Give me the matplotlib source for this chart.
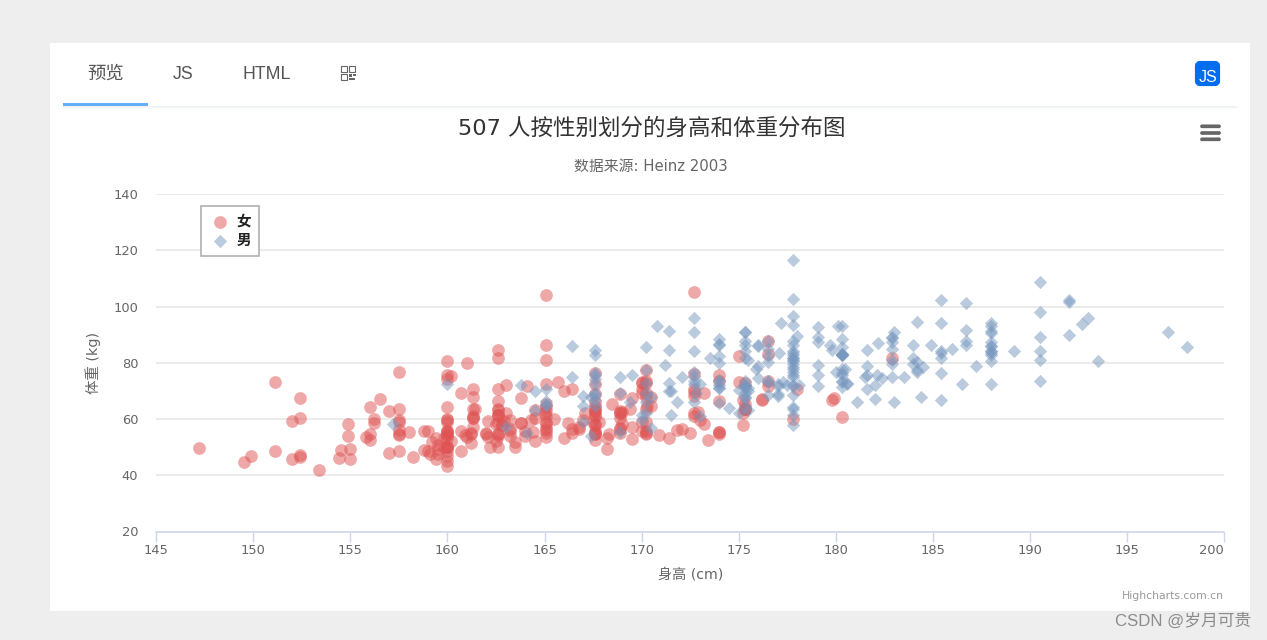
import matplotlib
matplotlib.use('Agg')
import matplotlib.pyplot as plt
from matplotlib.patches import Rectangle, FancyBboxPatch

plt.rcParams['font.family'] = ['DejaVu Sans', 'Noto Sans CJK SC']

# height (cm), weight (kg)
female_height = [
    161.2, 167.5, 159.5, 157.0, 155.8, 170.0, 159.1, 166.0, 176.2, 160.2, 172.5, 170.9, 172.9, 153.4, 160.0,
    147.2, 168.2, 175.0, 157.0, 167.6, 159.5, 175.0, 166.8, 176.5, 170.2, 174.0, 173.0, 179.9, 170.5, 160.0,
    154.4, 162.0, 176.5, 160.0, 152.0, 162.1, 170.0, 160.2, 161.3, 166.4, 168.9, 163.8, 167.6, 160.0, 161.3,
    167.6, 165.1, 160.0, 170.0, 157.5, 167.6, 160.7, 163.2, 152.4, 157.5, 168.3, 180.3, 165.5, 165.0, 164.5,
    156.0, 160.0, 163.0, 165.7, 161.0, 162.0, 166.0, 174.0, 172.7, 167.6, 151.1, 164.5, 163.5, 152.0, 169.0,
    164.0, 161.2, 155.0, 170.0, 176.2, 170.0, 162.5, 170.3, 164.1, 169.5, 163.2, 154.5, 159.8, 173.2, 170.0,
    161.4, 169.0, 166.2, 159.4, 162.5, 159.0, 162.8, 159.0, 179.8, 162.9, 161.0, 151.1, 168.2, 168.9, 173.2,
    171.8, 178.0, 164.3, 163.0, 168.5, 166.8, 172.7, 163.5, 169.4, 167.8, 159.5, 167.6, 161.2, 160.0, 163.2,
    162.2, 161.3, 149.5, 157.5, 163.2, 172.7, 155.0, 156.5, 164.0, 160.9, 162.8, 167.0, 160.0, 160.0, 168.9,
    158.2, 156.0, 160.0, 167.1, 158.0, 167.6, 156.0, 162.1, 173.4, 159.8, 170.5, 159.2, 157.5, 161.3, 162.6,
    160.0, 168.9, 165.1, 162.6, 165.1, 166.4, 160.0, 152.4, 170.2, 162.6, 170.2, 158.8, 172.7, 167.6, 162.6,
    167.6, 156.2, 175.2, 172.1, 162.6, 160.0, 165.1, 182.9, 166.4, 165.1, 177.8, 165.1, 175.3, 154.9, 158.8,
    172.7, 168.9, 161.3, 167.6, 165.1, 175.3, 157.5, 163.8, 167.6, 165.1, 165.1, 168.9, 162.6, 164.5, 176.5,
    168.9, 175.3, 159.4, 160.0, 170.2, 162.6, 167.6, 162.6, 160.7, 160.0, 157.5, 162.6, 152.4, 170.2, 165.1,
    172.7, 165.1, 170.2, 170.2, 170.2, 161.3, 167.6, 167.6, 165.1, 162.6, 152.4, 168.9, 170.2, 175.2, 175.2,
    160.0, 165.1, 174.0, 170.2, 160.0, 167.6, 167.6, 167.6, 154.9, 162.6, 175.3, 171.4, 157.5, 165.1, 160.0,
    174.0, 162.6, 174.0, 162.6, 161.3, 156.2, 149.9, 169.5, 160.0, 175.3, 169.5, 160.0, 172.7, 162.6, 157.5,
    176.5, 164.4, 160.7, 174.0, 163.8,
]
female_weight = [
    51.6, 59.0, 49.2, 63.0, 53.6, 59.0, 47.6, 69.8, 66.8, 75.2, 55.2, 54.2, 62.5, 42.0, 50.0,
    49.8, 49.2, 73.2, 47.8, 68.8, 50.6, 82.5, 57.2, 87.8, 72.8, 54.5, 59.8, 67.3, 67.8, 47.0,
    46.2, 55.0, 83.0, 54.4, 45.8, 53.6, 73.2, 52.1, 67.9, 56.6, 62.3, 58.5, 54.5, 50.2, 60.3,
    58.3, 56.2, 50.2, 72.9, 59.8, 61.0, 69.1, 55.9, 46.5, 54.3, 54.8, 60.7, 60.0, 62.0, 60.3,
    52.7, 74.3, 62.0, 73.1, 80.0, 54.7, 53.2, 75.7, 61.1, 55.7, 48.7, 52.3, 50.0, 59.3, 62.5,
    55.7, 54.8, 45.9, 70.6, 67.2, 69.4, 58.2, 64.8, 71.6, 52.8, 59.8, 49.0, 50.0, 69.2, 55.9,
    63.4, 58.2, 58.6, 45.7, 52.2, 48.6, 57.8, 55.6, 66.8, 59.4, 53.6, 73.2, 53.4, 69.0, 58.4,
    56.2, 70.6, 59.8, 72.0, 65.2, 56.6, 105.2, 51.8, 63.4, 59.0, 47.6, 63.0, 55.2, 45.0, 54.0,
    50.2, 60.2, 44.8, 58.8, 56.4, 62.0, 49.2, 67.2, 53.8, 54.4, 58.0, 59.8, 54.8, 43.2, 60.5,
    46.4, 64.4, 48.8, 62.2, 55.5, 57.8, 54.6, 59.2, 52.7, 53.2, 64.5, 51.8, 56.0, 63.6, 63.2,
    59.5, 56.8, 64.1, 50.0, 72.3, 55.0, 55.9, 60.4, 69.1, 84.5, 55.9, 55.6, 69.5, 76.4, 61.4,
    65.9, 58.6, 66.8, 56.6, 58.6, 55.9, 59.1, 81.8, 70.7, 56.8, 60.0, 58.2, 72.7, 54.1, 49.1,
    75.9, 55.0, 57.3, 55.0, 65.5, 65.5, 48.6, 58.6, 63.6, 55.2, 62.7, 56.6, 53.9, 63.2, 73.6,
    62.0, 63.6, 53.2, 53.4, 55.0, 70.5, 54.5, 54.5, 55.9, 59.0, 63.6, 54.5, 47.3, 67.7, 80.9,
    70.5, 60.9, 63.6, 54.5, 59.1, 70.5, 52.7, 62.7, 86.3, 66.4, 67.3, 63.0, 73.6, 62.3, 57.7,
    55.4, 104.1, 55.5, 77.3, 80.5, 64.5, 72.3, 61.4, 58.2, 81.8, 63.6, 53.4, 54.5, 53.6, 60.0,
    73.6, 61.4, 55.5, 63.6, 60.9, 60.0, 46.8, 57.3, 64.1, 63.6, 67.3, 75.5, 68.2, 61.4, 76.8,
    71.8, 55.5, 48.6, 66.4, 67.3,
]
male_height = [
    174.0, 175.3, 193.5, 186.5, 187.2, 181.5, 184.0, 184.5, 175.0, 184.0, 180.0, 177.8, 192.0, 176.0, 174.0,
    184.0, 192.7, 171.5, 173.0, 176.0, 176.0, 180.5, 172.7, 176.0, 173.5, 178.0, 180.3, 180.3, 164.5, 173.0,
    183.5, 175.5, 188.0, 189.2, 172.8, 170.0, 182.0, 170.0, 177.8, 184.2, 186.7, 171.4, 172.7, 175.3, 180.3,
    182.9, 188.0, 177.2, 172.1, 167.0, 169.5, 174.0, 172.7, 182.2, 164.1, 163.0, 171.5, 184.2, 174.0, 174.0,
    177.0, 186.0, 167.0, 171.8, 182.0, 167.0, 177.8, 164.5, 192.0, 175.5, 171.2, 181.6, 167.4, 181.1, 177.0,
    174.5, 177.5, 170.5, 182.4, 197.1, 180.1, 175.5, 180.6, 184.4, 175.5, 180.6, 177.0, 177.1, 181.6, 176.5,
    175.0, 174.0, 165.1, 177.0, 192.0, 176.5, 169.4, 182.1, 179.8, 175.3, 184.9, 177.3, 167.4, 178.1, 168.9,
    157.2, 180.3, 170.2, 177.8, 172.7, 165.1, 186.7, 165.1, 174.0, 175.3, 185.4, 177.8, 180.3, 180.3, 177.8,
    177.8, 177.8, 177.8, 177.8, 163.8, 188.0, 198.1, 175.3, 166.4, 190.5, 166.4, 177.8, 179.7, 172.7, 190.5,
    185.4, 168.9, 167.6, 175.3, 170.2, 190.5, 177.8, 190.5, 177.8, 184.2, 176.5, 177.8, 180.3, 171.4, 172.7,
    172.7, 177.8, 177.8, 182.9, 170.2, 167.6, 175.3, 165.1, 185.4, 181.6, 172.7, 190.5, 179.1, 175.3, 170.2,
    193.0, 171.4, 177.8, 177.8, 167.6, 167.6, 180.3, 182.9, 176.5, 186.7, 188.0, 188.0, 177.8, 174.0, 177.8,
    171.4, 185.4, 185.4, 188.0, 188.0, 182.9, 176.5, 175.3, 175.3, 188.0, 188.0, 175.3, 170.5, 179.1, 177.8,
    175.3, 182.9, 170.8, 188.0, 180.3, 177.8, 185.4, 168.9, 185.4, 180.3, 174.0, 167.6, 182.9, 160.0, 180.3,
    167.6, 186.7, 175.3, 175.3, 175.9, 175.3, 179.1, 181.6, 177.8, 182.9, 177.8, 184.2, 179.1, 176.5, 188.0,
    174.0, 167.6, 170.2, 167.6, 188.0, 174.0, 176.5, 180.3, 167.6, 188.0, 180.3, 167.6, 183.0, 183.0, 179.1,
    170.2, 177.8, 179.1, 190.5, 177.8, 180.3, 180.3,
]
male_weight = [
    65.6, 71.8, 80.7, 72.6, 78.8, 74.8, 86.4, 78.4, 62.0, 81.6, 76.6, 83.6, 90.0, 74.6, 71.0,
    79.6, 93.8, 70.0, 72.4, 85.9, 78.8, 77.8, 66.2, 86.4, 81.8, 89.6, 82.8, 76.4, 63.2, 60.9,
    74.8, 70.0, 72.4, 84.1, 69.1, 59.5, 67.2, 61.3, 68.6, 80.1, 87.8, 84.7, 73.4, 72.1, 82.6,
    88.7, 84.1, 94.1, 74.9, 59.1, 75.6, 86.2, 75.3, 87.1, 55.2, 57.0, 61.4, 76.8, 86.8, 72.2,
    71.6, 84.8, 68.2, 66.1, 72.0, 64.6, 74.8, 70.0, 101.6, 63.2, 79.1, 78.9, 67.7, 66.0, 68.2,
    63.9, 72.0, 56.8, 74.5, 90.9, 93.0, 80.9, 72.7, 68.0, 70.9, 72.5, 72.5, 83.4, 75.5, 73.0,
    70.2, 73.4, 70.5, 68.9, 102.3, 68.4, 65.9, 75.7, 84.5, 87.7, 86.4, 73.2, 53.9, 72.0, 55.5,
    58.4, 83.2, 72.7, 64.1, 72.3, 65.0, 86.4, 65.0, 88.6, 84.1, 66.8, 75.5, 93.2, 82.7, 58.0,
    79.5, 78.6, 71.8, 116.4, 72.2, 83.6, 85.5, 90.9, 85.9, 89.1, 75.0, 77.7, 86.4, 90.9, 73.6,
    76.4, 69.1, 84.5, 64.5, 69.1, 108.6, 86.4, 80.9, 87.7, 94.5, 80.2, 72.0, 71.4, 72.7, 84.1,
    76.8, 63.6, 80.9, 80.9, 85.5, 68.6, 67.7, 66.4, 102.3, 70.5, 95.9, 84.1, 87.3, 71.8, 65.9,
    95.9, 91.4, 81.8, 96.8, 69.1, 82.7, 75.5, 79.5, 73.6, 91.8, 84.1, 85.9, 81.8, 82.5, 80.5,
    70.0, 81.8, 84.1, 90.5, 91.4, 89.1, 85.0, 69.1, 73.6, 80.5, 82.7, 86.4, 67.7, 92.7, 93.6,
    70.9, 75.0, 93.2, 93.2, 77.7, 61.4, 94.1, 75.0, 83.6, 85.5, 73.9, 66.8, 87.3, 72.3, 88.6,
    75.5, 101.4, 91.1, 67.3, 77.7, 81.8, 75.5, 84.5, 76.6, 85.0, 102.5, 77.3, 71.8, 87.9, 94.3,
    70.9, 64.5, 77.3, 72.3, 87.3, 80.0, 82.3, 73.6, 74.1, 85.9, 73.2, 76.3, 65.9, 90.9, 89.1,
    62.3, 82.7, 79.1, 98.2, 84.1, 83.2, 83.2,
]
x_ticks = list(range(145, 201, 5))
y_ticks = list(range(20, 141, 20))
tabs = ['预览', 'JS', 'HTML']
tab_x = [106, 183, 267]
tab_y = [74.5, 74.5, 74.5]
tab_size = [13.2, 12.8, 12.8]

W, H = 1267, 640
fig = plt.figure(figsize=(W / 100, H / 100), dpi=100, facecolor='#eeeeee')

# page around the chart, in pixel coordinates
bg = fig.add_axes([0, 0, 1, 1], zorder=0)
bg.set_xlim(0, W)
bg.set_ylim(H, 0)
bg.axis('off')
bg.add_patch(Rectangle((50, 43), 1200, 568, fc='white', ec='none'))
for i, c in enumerate(['#eef1f1', '#f4f6f6', '#fafbfb']):
    bg.add_patch(Rectangle((63, 106 + i), 1174, 1, fc=c, ec='none'))
bg.add_patch(Rectangle((63, 103), 85, 3, fc='#66aef8', ec='none'))
for t, x, y, fs in zip(tabs, tab_x, tab_y, tab_size):
    bg.text(x, y, t, ha='center', va='center', fontsize=fs, color='#555555',
            family=['Liberation Sans', 'Noto Sans CJK SC'])
# qr icon
for x, y in [(341, 66), (349, 66), (341, 74)]:
    bg.add_patch(Rectangle((x, y), 6, 6, fc='none', ec='#666666', lw=0.8))
for x, y, w, h in [(349, 74, 3, 3), (353, 74, 3, 2), (349, 78, 6, 2)]:
    bg.add_patch(Rectangle((x, y), w, h, fc='#666666', ec='none'))
# js badge
bg.add_patch(FancyBboxPatch((1197, 63), 21, 21, boxstyle='round,pad=0,rounding_size=3',
                            fc='#006cee', ec='#006cee', lw=3))
bg.text(1208.5, 77, 'JS', ha='center', va='center', fontsize=11.5, color='white',
        family='Liberation Sans')
# export menu
for y in [126.3, 133, 139.3]:
    bg.add_patch(FancyBboxPatch((1201, y - 1), 19, 2, boxstyle='round,pad=0,rounding_size=1',
                                fc='#666666', ec='#666666', lw=1.2))
bg.text(651.5, 128, '507 人按性别划分的身高和体重分布图', ha='center', va='center',
        fontsize=16.2, color='#333333')
bg.text(650.5, 166.5, '数据来源: Heinz 2003', ha='center', va='center', fontsize=10.7, color='#666666')
bg.text(1224, 596, 'Highcharts.com.cn', ha='right', va='center', fontsize=7.8, color='#999999')
bg.text(1251, 621, 'CSDN @岁月可贵', ha='right', va='center', fontsize=12.1, color='#8c8c8c',
        family=['Liberation Sans', 'Noto Sans CJK SC'])

# plot area: x 156.3..1224 px, y 194..531.5 px
ax = fig.add_axes([156.3 / W, 1 - 531.5 / H, (1224 - 156.3) / W, (531.5 - 194) / H], zorder=1)
ax.patch.set_alpha(0)
ax.scatter(female_height, female_weight, s=84, marker='o', color=(223 / 255, 83 / 255, 83 / 255, 0.5),
           linewidths=0, label='女', clip_on=False, zorder=3)
ax.scatter(male_height, male_weight, s=46, marker='D', color=(119 / 255, 152 / 255, 191 / 255, 0.5),
           linewidths=0, label='男', clip_on=False, zorder=3)
ax.set_xlim(145, 200)
ax.set_ylim(20, 140)
ax.set_xticks(x_ticks)
ax.set_yticks(y_ticks)
ax.grid(axis='y', color='#e6e6e6', lw=1.1)
ax.set_axisbelow(True)
for s in ['top', 'right', 'left']:
    ax.spines[s].set_visible(False)
ax.spines['bottom'].set_color('#ccd6eb')
ax.spines['bottom'].set_linewidth(1.1)
ax.tick_params(axis='x', length=7.2, width=1, color='#ccd6eb', labelsize=9.4, labelcolor='#666666', pad=1.5)
ax.tick_params(axis='y', length=0, labelsize=9.4, labelcolor='#666666', pad=13)
# last label is pulled back inside the chart
ax.get_xticklabels()[-1].set_ha('right')
ax.set_xlabel('身高 (cm)', fontsize=10.2, color='#666666', labelpad=8)
ax.set_ylabel('体重 (kg)', fontsize=10.4, color='#666666', labelpad=9)

leg = ax.legend(loc='upper left', bbox_to_anchor=(201 / W, 1 - 206 / H), bbox_transform=fig.transFigure,
                fancybox=False, framealpha=1, edgecolor='#a9a9a9', borderaxespad=0,
                labelspacing=0.28, handletextpad=0.4, borderpad=0.55, handlelength=1.5,
                prop={'size': 10.5, 'weight': 'bold'}, labelcolor='#222222')
leg.get_frame().set_linewidth(1.1)
leg.set_zorder(5)

fig.savefig('out.png', dpi=100, facecolor=fig.get_facecolor())
